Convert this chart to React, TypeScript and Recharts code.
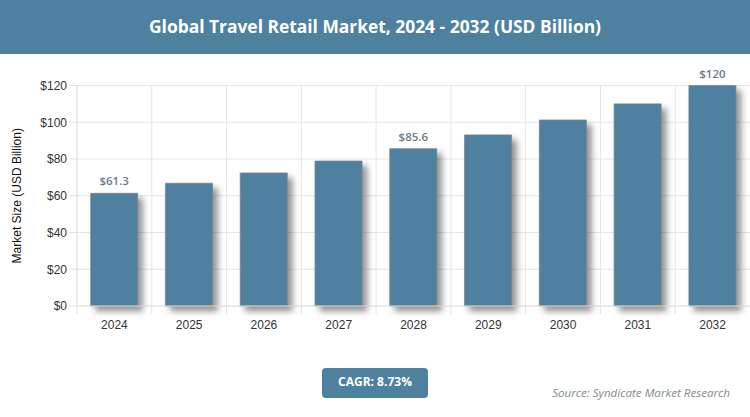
import { BarChart, Bar, XAxis, YAxis, CartesianGrid, LabelList } from "recharts";

const years = ["2024", "2025", "2026", "2027", "2028", "2029", "2030", "2031", "2032"];
const marketSize = [61.3, 66.8, 72.4, 78.9, 85.6, 93.1, 101.2, 110, 120];
const labelledYears = ["2024", "2028", "2032"];
const yTicks = [0, 20, 40, 60, 80, 100, 120];

const data = years.map((year, i) => ({ year, value: marketSize[i] }));

const BLUE = "#4d819f";
const UI_FONT = "'Open Sans', sans-serif";
const AXIS_FONT = "'Liberation Sans', Arial, sans-serif";
const BAND = 74.9;

function YearTick({ x, y, payload }: any) {
  const left = x - BAND / 2;
  return (
    <g>
      <line x1={left} x2={left} y1={y - 8} y2={y} stroke="#e2e2e2" />
      <text x={x} y={y + 15} textAnchor="middle" fontSize={12} fontFamily={AXIS_FONT} fill="#333">
        {payload.value}
      </text>
    </g>
  );
}

function ValueLabel({ x, y, width, value, index }: any) {
  if (!labelledYears.includes(years[index])) return null;
  return (
    <text
      x={x + width / 2}
      y={y - 8}
      textAnchor="middle"
      fontSize={11.5}
      fontWeight={600}
      fontFamily={UI_FONT}
      fill="#6c7a89"
    >
      ${value}
    </text>
  );
}

export default function App() {
  return (
    <div style={{ position: "absolute", left: 0, top: 0, width: 750, height: 417, overflow: "hidden", background: "#fff" }}>
      <div
        style={{
          position: "absolute",
          left: 0,
          top: 0,
          width: 750,
          height: 54,
          lineHeight: "52px",
          background: BLUE,
          color: "#fff",
          textAlign: "center",
          fontFamily: UI_FONT,
          fontWeight: 700,
          fontSize: 17.4,
        }}
      >
        Global Travel Retail Market, 2024 - 2032 (USD Billion)
      </div>
      <div style={{ position: "absolute", left: 0, top: 0 }}>
        <BarChart width={750} height={417} data={data} margin={{ top: 85.5, right: 0, bottom: 71, left: 0 }} barCategoryGap="18.3%">
          <CartesianGrid
            stroke="#e6e6e6"
            verticalCoordinatesGenerator={({ offset }: any) =>
              years.map((_, i) => offset.left + (i * offset.width) / years.length)
            }
          />
          <XAxis dataKey="year" tick={<YearTick />} tickLine={false} axisLine={{ stroke: "#e2e2e2" }} height={40} interval={0} />
          <YAxis
            width={77}
            domain={[0, 120]}
            ticks={yTicks}
            tickFormatter={(v: number) => `$${v}`}
            tick={{ fontSize: 12, fontFamily: AXIS_FONT, fill: "#333" }}
            tickLine={{ stroke: "#e2e2e2" }}
            tickSize={8}
            axisLine={{ stroke: "#e2e2e2" }}
            label={{
              value: "Market Size (USD Billion)",
              angle: -90,
              position: "insideLeft",
              offset: 17,
              style: { fontSize: 12, fontFamily: AXIS_FONT, fill: "#111", textAnchor: "middle" },
            }}
          />
          <Bar
            dataKey="value"
            fill={BLUE}
            stroke="#7d8489"
            strokeWidth={0.8}
            isAnimationActive={false}
            style={{ filter: "drop-shadow(5px 5px 3px rgba(0,0,0,0.42))" }}
          >
            <LabelList dataKey="value" content={<ValueLabel />} />
          </Bar>
        </BarChart>
      </div>
      <div
        style={{
          position: "absolute",
          left: 322,
          top: 368,
          width: 106,
          height: 30,
          lineHeight: "28px",
          borderRadius: 4,
          background: BLUE,
          color: "#fff",
          textAlign: "center",
          fontFamily: UI_FONT,
          fontWeight: 700,
          fontSize: 12,
        }}
      >
        CAGR: 8.73%
      </div>
      <div
        style={{
          position: "absolute",
          right: 20,
          top: 385,
          color: "#7f8c8d",
          fontFamily: UI_FONT,
          fontStyle: "italic",
          fontSize: 11.6,
        }}
      >
        Source: Syndicate Market Research
      </div>
    </div>
  );
}
